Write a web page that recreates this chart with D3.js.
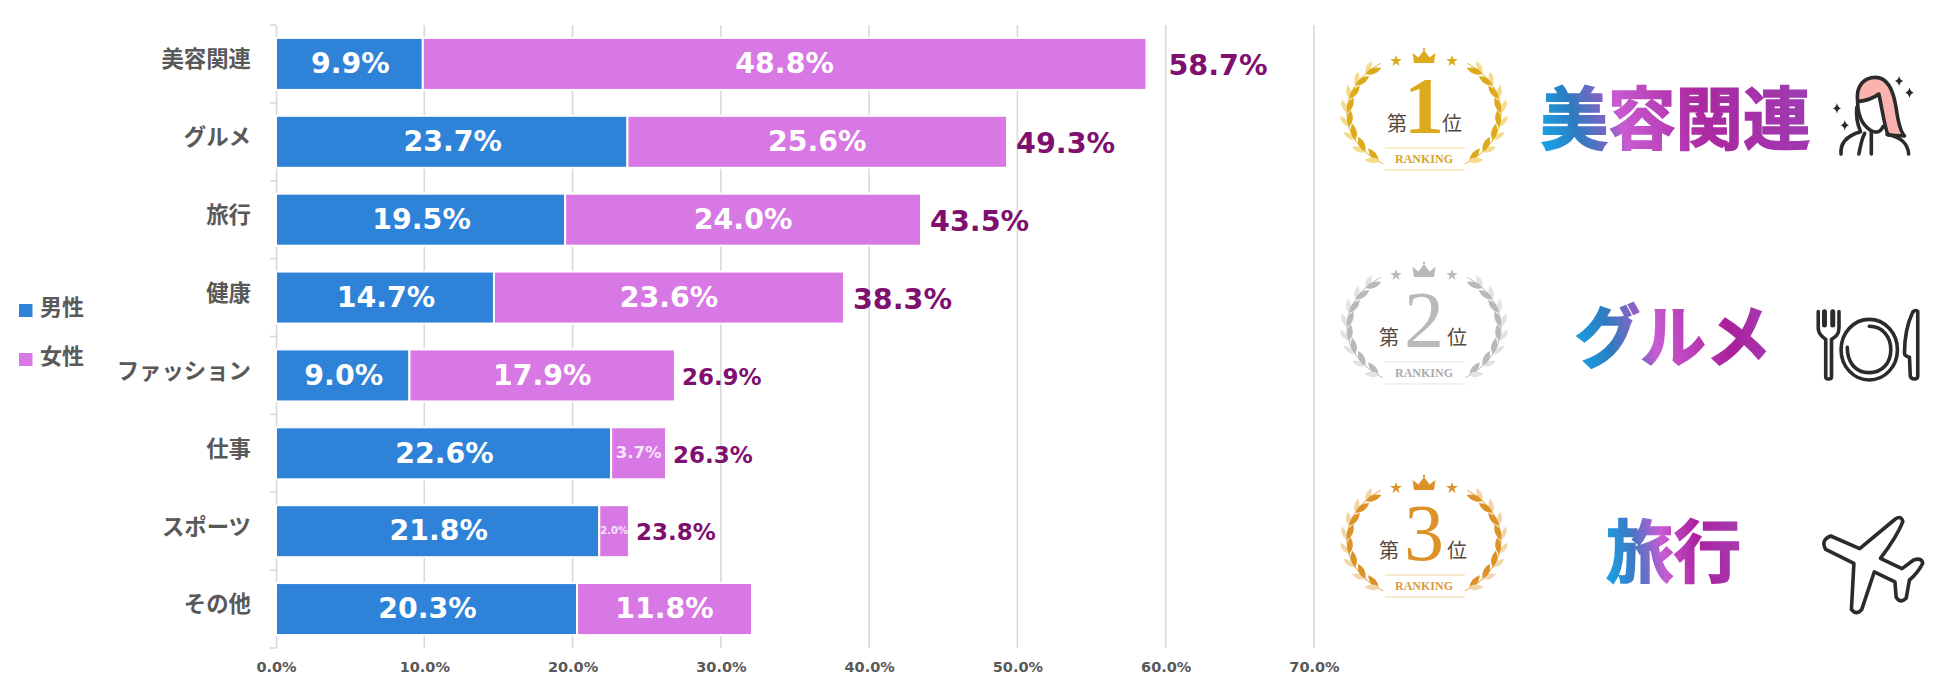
<!doctype html>
<html>
<head>
<meta charset="utf-8">
<script src="https://cdnjs.cloudflare.com/ajax/libs/d3/7.8.5/d3.min.js"></script>
<style>
  body { margin: 0; background: #fff; }
  svg { display: block; }
  text { font-family: "DejaVu Sans", sans-serif; }
  .jp { font-family: "Noto Sans CJK JP", sans-serif; font-weight: 700; }
  .serif { font-family: "Liberation Serif", serif; }
  .icon * { vector-effect: non-scaling-stroke; }
</style>
</head>
<body>
<svg width="1950" height="692"></svg>
<script>
// data
const categories = ["美容関連", "グルメ", "旅行", "健康", "ファッション", "仕事", "スポーツ", "その他"];
const maleValues = [9.9, 23.7, 19.5, 14.7, 9.0, 22.6, 21.8, 20.3];
const femaleValues = [48.8, 25.6, 24.0, 23.6, 17.9, 3.7, 2.0, 11.8];
const totalLabels = [58.7, 49.3, 43.5, 38.3, 26.9, 26.3, 23.8, null];
const xTicks = [0, 10, 20, 30, 40, 50, 60, 70];
const seriesNames = ["男性", "女性"];
const rankNames = ["美容関連", "グルメ", "旅行"];
const rankNumbers = ["1", "2", "3"];

const blue = "#2e83d9", pink = "#d878e4", purple = "#80106f", grey = "#595959";
const pct = d => d.toFixed(1) + "%";

const svg = d3.select("svg");

const x = d3.scaleLinear().domain([0, 70]).range([276, 1314]);
const band = d3.scaleBand().domain(categories).range([25, 648]);

// grid
svg.append("g").selectAll("line").data(xTicks.slice(1)).enter().append("line")
    .attr("x1", d => x(d)).attr("x2", d => x(d))
    .attr("y1", 25).attr("y2", 648)
    .attr("stroke", "#d9d9d9").attr("stroke-width", 1.6);

// axes
const xAxis = d3.axisBottom(x).tickValues(xTicks).tickSize(0).tickPadding(0).tickFormat(d => pct(d));
const xG = svg.append("g").attr("transform", "translate(0,662)").call(xAxis);
xG.select(".domain").remove();
xG.selectAll("text").attr("fill", grey).attr("font-size", 14.5).attr("font-weight", 700).attr("dy", "0.7em");

const yAxis = d3.axisLeft(band).tickSizeInner(0).tickSizeOuter(0).tickPadding(25);
const yG = svg.append("g").attr("transform", "translate(276,0)").call(yAxis);
yG.select(".domain").attr("stroke", "#d9d9d9").attr("stroke-width", 1.6);
yG.selectAll("text").attr("class", "jp").attr("fill", grey).attr("font-size", 22.4).attr("dy", "0.15em");

// category tick marks sit on the band edges
svg.append("g").selectAll("line")
    .data(categories.map(c => band(c)).concat([648])).enter().append("line")
    .attr("x1", 270).attr("x2", 276).attr("y1", d => d).attr("y2", d => d)
    .attr("stroke", "#d9d9d9").attr("stroke-width", 1.6);

const rows = categories.map((c, i) => ({c: c, m: maleValues[i], f: femaleValues[i], t: totalLabels[i]}));

// bars
const barH = 52;
const barY = d => band(d.c) + (band.bandwidth() - barH) / 2;
svg.append("g").selectAll("rect").data(rows).enter().append("rect")
    .attr("x", x(0)).attr("y", barY)
    .attr("width", d => x(d.m) - x(0)).attr("height", barH)
    .attr("fill", blue).attr("stroke", "#fff").attr("stroke-width", 2);
svg.append("g").selectAll("rect").data(rows).enter().append("rect")
    .attr("x", d => x(d.m)).attr("y", barY)
    .attr("width", d => x(d.f) - x(0)).attr("height", barH)
    .attr("fill", pink).attr("stroke", "#fff").attr("stroke-width", 2);

// labels inside the bars
svg.append("g").selectAll("text").data(rows).enter().append("text")
    .attr("x", d => (x(0) + x(d.m)) / 2 + 1)
    .attr("y", d => barY(d) + barH / 2 - 1)
    .attr("dy", "0.36em").attr("text-anchor", "middle")
    .attr("fill", "#fff").attr("font-size", 28.4).attr("font-weight", 700)
    .text(d => pct(d.m));
svg.append("g").selectAll("text").data(rows).enter().append("text")
    .attr("x", d => x(d.m) + (x(d.f) - x(0)) / 2)
    .attr("y", d => barY(d) + barH / 2 - 1)
    .attr("dy", "0.36em").attr("text-anchor", "middle")
    .attr("fill", d => d.f < 5 ? "#f8e4fb" : "#fff")
    .attr("font-size", d => d.f < 2.5 ? 10 : d.f < 5 ? 16.5 : 28.4)
    .attr("font-weight", 700)
    .text(d => pct(d.f));

// totals
svg.append("g").selectAll("text").data(rows.filter(d => d.t !== null)).enter().append("text")
    .attr("x", d => x(d.m + d.f) + (d.t > 55 ? 22 : d.t > 30 ? 9 : 7))
    .attr("y", d => barY(d) + barH / 2 + 1)
    .attr("dy", "0.36em")
    .attr("fill", purple).attr("font-weight", 700)
    .attr("font-size", d => d.t > 30 ? 28.6 : 23)
    .text(d => pct(d.t));

// legend
const legend = svg.append("g").selectAll("g").data(seriesNames).enter().append("g")
    .attr("transform", (d, i) => "translate(19," + (304 + i * 49) + ")");
legend.append("rect").attr("width", 13.5).attr("height", 13).attr("fill", (d, i) => [blue, pink][i]);
legend.append("text").attr("class", "jp").attr("x", 21).attr("y", 11)
    .attr("fill", grey).attr("font-size", 22).text(d => d);

// ---- ranking panel ----
const defs = svg.append("defs");
function addGrad(id, stops) {
    const g = defs.append("linearGradient").attr("id", id)
        .attr("x1", 0).attr("y1", 0.55).attr("x2", 1).attr("y2", 0.45);
    stops.forEach(s => g.append("stop").attr("offset", s[0]).attr("stop-color", s[1]));
}
addGrad("g1", [[0, "#1a9fe2"], [0.12, "#2d7cc0"], [0.24, "#7f64c4"], [0.29, "#c95bd2"], [0.6, "#ab28a0"], [1, "#9e3cb2"]]);
addGrad("g2", [[0, "#1a9fe2"], [0.17, "#2d7cc0"], [0.33, "#8c62c6"], [0.4, "#c95bd2"], [0.78, "#aa1f9a"], [1, "#a53cb6"]]);
addGrad("g3", [[0, "#1a9fe2"], [0.2, "#3f78c4"], [0.42, "#c95bd2"], [0.68, "#ab22a0"], [1, "#a53cb0"]]);

const laurel = "M0,0 Q8,-6 17,0 Q8,6 0,0Z";
const crown = "M-10,6 L-11.5,-4 L-5.5,0.5 L0,-7 L5.5,0.5 L11.5,-4 L10,6Z";

function drawBadge(dy, num, dark, light, rankText, numWeight, firstX, lastX) {
    const g = svg.append("g").attr("transform", "translate(1424," + dy + ")");
    // crown and stars
    g.append("path").attr("d", crown).attr("transform", "translate(0,57)").attr("fill", dark);
    g.append("circle").attr("cy", 49).attr("r", 1.2).attr("fill", dark);
    g.append("rect").attr("x", -10).attr("y", 60).attr("width", 20).attr("height", 3).attr("fill", dark);
    [-28, 28].forEach(sx => {
        g.append("path").attr("d", d3.symbol(d3.symbolStar, 42)())
            .attr("transform", "translate(" + sx + ",61)").attr("fill", dark);
    });
    // wreath, one branch a side
    [-1, 1].forEach(side => {
        const b = g.append("g");
        const pt = a => [side * 77 * Math.cos(a), 113 - 60 * Math.sin(a)];
        const angles = d3.range(8).map(i => (-54 + i * 13.5) * Math.PI / 180);
        const stem = d3.line().curve(d3.curveCatmullRom)(d3.range(-58, 60, 6).map(a => pt(a * Math.PI / 180)));
        b.append("path").attr("d", stem).attr("fill", "none").attr("stroke", dark).attr("stroke-width", 1);
        angles.forEach((a, i) => {
            const p = pt(a);
            const tang = Math.atan2(-60 * Math.cos(a), -side * 77 * Math.sin(a)) * 180 / Math.PI;
            const tilt = side * 22;
            b.append("path").attr("d", laurel).attr("fill", light)
                .attr("transform", "translate(" + p[0] + "," + p[1] + ") rotate(" + (tang + tilt) + ") scale(0.85)");
            b.append("path").attr("d", laurel).attr("fill", dark)
                .attr("transform", "translate(" + p[0] + "," + p[1] + ") rotate(" + (tang - tilt) + ")");
        });
        b.append("path").attr("d", laurel).attr("fill", light)
            .attr("transform", "translate(" + side * 45 + ",160) rotate(" + (side > 0 ? 0 : 180) + ") scale(0.8)");
    });
    // number
    g.append("text").attr("class", "serif").attr("y", 133).attr("text-anchor", "middle")
        .attr("font-size", 80).attr("font-weight", numWeight).attr("fill", dark).text(num);
    g.append("text").attr("x", firstX).attr("y", 131).attr("text-anchor", "middle")
        .attr("font-size", 20).attr("fill", "#55483f").style("font-family", "Noto Sans CJK JP").text("第");
    g.append("text").attr("x", lastX).attr("y", 131).attr("text-anchor", "middle")
        .attr("font-size", 20).attr("fill", "#55483f").style("font-family", "Noto Sans CJK JP").text("位");
    // ranking band
    [148, 170].forEach(ly => {
        g.append("line").attr("x1", -39).attr("x2", 41).attr("y1", ly).attr("y2", ly)
            .attr("stroke", light).attr("stroke-width", 1.2);
    });
    g.append("text").attr("class", "serif").attr("y", 163).attr("text-anchor", "middle")
        .attr("font-size", 12).attr("font-weight", 700).attr("fill", rankText).text("RANKING");
}
drawBadge(0, rankNumbers[0], "#dcaa1c", "#f3dd8c", "#d9a528", "700", -27, 28);
drawBadge(214, rankNumbers[1], "#b9b9b9", "#e2e2e2", "#ababab", "400", -35, 33);
drawBadge(427, rankNumbers[2], "#dd9228", "#f0d6a8", "#dd9a40", "400", -35, 33);

// gradient titles
const titlePos = [[1675.5, 144, 270], [1673, 362, 197], [1673.5, 577, 135]];
rankNames.forEach((name, i) => {
    svg.append("text").attr("class", "jp")
        .attr("x", titlePos[i][0]).attr("y", titlePos[i][1])
        .attr("text-anchor", "middle")
        .attr("font-size", 68).attr("font-weight", 900)
        .attr("textLength", titlePos[i][2]).attr("lengthAdjust", "spacingAndGlyphs")
        .attr("fill", "url(#g" + (i + 1) + ")")
        .attr("stroke", "url(#g" + (i + 1) + ")").attr("stroke-width", 1.6)
        .text(name);
});

// line icons, drawn in crop-style coordinates then squeezed into place
function iconGroup(ox, oy) {
    return svg.append("g").attr("class", "icon")
        .attr("transform", "translate(" + ox + "," + oy + ") scale(0.4146,0.3333)")
        .attr("fill", "none").attr("stroke", "#2b2b2b").attr("stroke-width", 3.6)
        .attr("stroke-linecap", "round").attr("stroke-linejoin", "round");
}
const sparkle = "M0,-16 Q2,-3 10,0 Q2,3 0,16 Q-2,3 -10,0 Q-2,-3 0,-16Z";

// woman
const w = iconGroup(1300, 20);
w.append("path").attr("fill", "#fbb3b0")
    .attr("d", "M1345,245 C1340,195 1362,172 1388,172 C1420,172 1432,215 1438,265 C1443,310 1448,335 1458,348 L1418,345 C1408,310 1405,270 1396,222 C1380,238 1360,243 1345,245Z");
w.append("path").attr("d", "M1345,245 C1345,280 1352,310 1375,330 C1385,338 1398,342 1406,320");
w.append("path").attr("d", "M1305,402 C1302,365 1325,345 1352,335 C1345,315 1340,295 1343,262");
w.append("path").attr("d", "M1348,402 C1352,375 1355,355 1362,340");
w.append("path").attr("d", "M1378,335 L1378,402");
w.append("path").attr("d", "M1468,402 C1466,370 1450,352 1416,343");
[[1445, 183], [1470, 218], [1295, 265], [1314, 316]].forEach(p => {
    w.append("path").attr("d", sparkle).attr("fill", "#2b2b2b").attr("stroke", "none")
        .attr("transform", "translate(" + p[0] + "," + p[1] + ")");
});

// fork, plate and knife
const c = iconGroup(1300, 240);
c.append("path").attr("d", "M1250,215 L1250,265 C1250,285 1262,292 1268,298 L1268,410 Q1268,417 1275,417 Q1282,417 1282,410 L1282,298 C1290,292 1300,285 1300,265 L1300,215");
c.append("path").attr("d", "M1265,215 L1265,255 M1285,215 L1285,255").attr("stroke-width", 5);
c.append("ellipse").attr("cx", 1373).attr("cy", 329).attr("rx", 68).attr("ry", 91);
c.append("path").attr("d", "M1373,259 C1405,259 1425,290 1425,329 C1425,368 1405,398 1373,398 C1340,398 1320,368 1320,322");
c.append("path").attr("d", "M1490,215 Q1486,208 1478,216 C1465,250 1458,300 1458,340 Q1458,348 1470,352 L1472,408 Q1474,417 1482,417 Q1490,417 1490,408Z");

// plane
const pl = iconGroup(1300, 450);
pl.append("path").attr("d", "M1436,207 Q1450,195 1454,215 Q1440,260 1400,325 L1452,356 L1480,330 Q1500,322 1502,340 Q1490,370 1470,390 L1462,445 Q1448,462 1438,442 L1435,396 L1385,366 L1355,478 Q1342,498 1330,478 L1336,340 L1268,298 Q1255,270 1280,258 L1350,296Z");
</script>
</body>
</html>
